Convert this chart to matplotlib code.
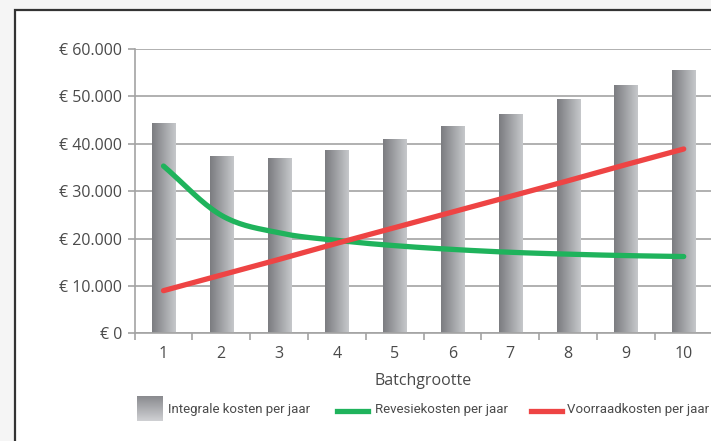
import numpy as np
import matplotlib.pyplot as plt
from matplotlib.colors import LinearSegmentedColormap
from matplotlib.patches import Rectangle

# data
batch = [1, 2, 3, 4, 5, 6, 7, 8, 9, 10]
integraal = [44300, 37300, 36900, 38500, 40800, 43500, 46200, 49200, 52200, 55300]
revisie = [35300, 24900, 21200, 19600, 18500, 17700, 17100, 16700, 16400, 16200]
voorraad = [9000, 12300, 15600, 19000, 22300, 25600, 28900, 32200, 35600, 38900]
yticks = [0, 10000, 20000, 30000, 40000, 50000, 60000]
ylabels = ["€ 0", "€ 10.000", "€ 20.000", "€ 30.000", "€ 40.000", "€ 50.000", "€ 60.000"]

txt = "#4a4a4a"
grid = "#a3a3a3"
green = "#1fb35c"
red = "#ee4444"
grad = LinearSegmentedColormap.from_list("bar", ["#7b7c80", "#c6c8cb"])

fig = plt.figure(figsize=(7.11, 4.41), dpi=100)
fig.patch.set_facecolor("#f5f5f5")

# white panel with dark border, behind the chart
bg = fig.add_axes([0, 0, 1, 1], zorder=-5)
bg.axis("off")
bg.add_patch(Rectangle((15, 10), 800, 500, facecolor="white",
                       edgecolor="#333333", linewidth=1.6))

ax = fig.add_axes([134.6 / 711, (441 - 333.3) / 441, 578 / 711, 284.3 / 441],
                  zorder=1)
ax.set_facecolor("none")

# bars with horizontal gradient
g = np.linspace(0, 1, 64).reshape(1, -1)
bars = ax.bar(batch, integraal, width=0.4, color="none", zorder=2)
for b in bars:
    x0, w, h = b.get_x(), b.get_width(), b.get_height()
    ax.imshow(g, cmap=grad, aspect="auto", extent=(x0, x0 + w, 0, h),
              zorder=2, interpolation="bilinear")
ax.set_xlim(0.5, 10.5)
ax.set_ylim(0, 60000)

# smooth green curve (Catmull-Rom through the points)
P = np.array(revisie, dtype=float)
Pp = np.concatenate([[2 * P[0] - P[1]], P, [2 * P[-1] - P[-2]]])
xf, yf = [], []
t = np.linspace(0, 1, 20)
for i in range(len(P) - 1):
    p0, p1, p2, p3 = Pp[i], Pp[i + 1], Pp[i + 2], Pp[i + 3]
    seg = 0.5 * (2 * p1 + (-p0 + p2) * t + (2 * p0 - 5 * p1 + 4 * p2 - p3) * t ** 2
                 + (-p0 + 3 * p1 - 3 * p2 + p3) * t ** 3)
    xf.extend(batch[i] + t)
    yf.extend(seg)
ax.plot(xf, yf, color=green, lw=3.8, solid_capstyle="round", zorder=3)
ax.plot(batch, voorraad, color=red, lw=3.8, solid_capstyle="round", zorder=4)

ax.set_yticks(yticks)
ax.set_yticklabels(ylabels)
ax.set_xticks(batch)
ax.set_xticks(np.arange(0.5, 11, 1), minor=True)
ax.grid(axis="y", color=grid, lw=1.2, zorder=1)
for s in ["top", "right"]:
    ax.spines[s].set_visible(False)
for s in ["left", "bottom"]:
    ax.spines[s].set_color(grid)
    ax.spines[s].set_linewidth(1.2)
ax.tick_params(axis="y", length=5, width=1.2, color=grid, labelsize=11.5,
               labelcolor=txt, pad=4)
ax.tick_params(axis="x", which="major", length=0, labelsize=11.5,
               labelcolor=txt, pad=9)
ax.tick_params(axis="x", which="minor", length=5, width=1.2, color=grid)
for lab in ax.get_xticklabels() + ax.get_yticklabels():
    lab.set_family("Open Sans")
ax.set_xlabel("Batchgrootte", fontsize=11.5, color=txt, family="Open Sans",
              labelpad=8)

# legend
lf = dict(fontsize=9.5, color=txt, family="Roboto", stretch="condensed",
          va="center")
ly = 409
lg = np.linspace(0, 1, 32).reshape(-1, 1)
bg.imshow(lg, cmap=LinearSegmentedColormap.from_list("lg", ["#8a8b8f", "#cfd0d3"]),
          extent=(136.5, 162.5, 421.5, 397), aspect="auto", zorder=2)
bg.set_xlim(0, 711)
bg.set_ylim(441, 0)
bg.text(168, ly, "Integrale kosten per jaar", **lf)
bg.plot([337, 368], [410.5, 410.5], color=green, lw=3.8)
bg.text(375, ly, "Revesiekosten per jaar", **lf)
bg.plot([531, 562], [410.5, 410.5], color=red, lw=3.8)
bg.text(567, ly, "Voorraadkosten per jaar", **lf)

fig.savefig("out.png", dpi=100, facecolor=fig.get_facecolor())
